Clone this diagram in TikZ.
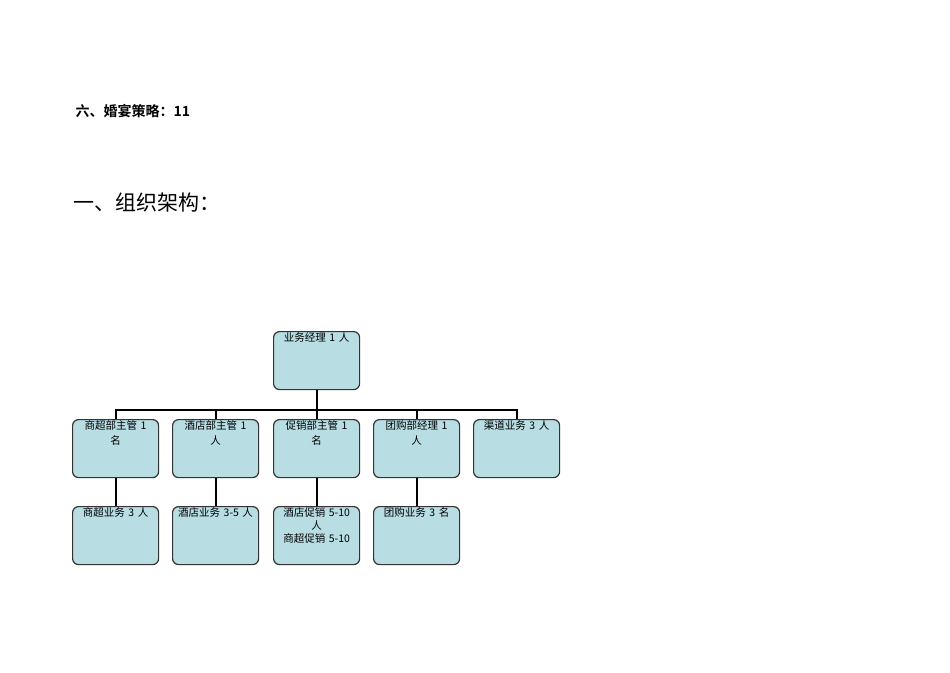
\documentclass[tikz,border=0pt]{standalone}
\usepackage{fontspec}
\newfontfamily\cjk{Noto Sans CJK SC}
\newfontfamily\cjkb{Noto Sans CJK SC Bold}
\definecolor{boxfill}{RGB}{184,222,228}
\begin{document}
\begin{tikzpicture}[x=1pt,y=-1pt,
  bx/.style={draw=black!80,line width=1.2pt,fill=boxfill,rounded corners=6pt,minimum width=86pt,minimum height=58pt,anchor=north west,inner sep=0pt},
  conn/.style={line width=2.2pt},
  lbl/.style={font=\cjk\fontsize{10.5}{15}\selectfont,align=center,anchor=north,text width=86pt}]
\useasboundingbox[fill=white] (0,0) rectangle (950,672);
\node[anchor=west,font=\cjkb\fontsize{14}{16}\selectfont] (t1) at (72,111) {六、婚宴策略：11};
\node[anchor=west,font=\cjk\fontsize{21}{24}\selectfont] (t2) at (70,203) {一、组织架构：};
\node[bx] (top) at (273,331) {};
\foreach \n/\x in {a/72,b/172,c/273,d/373,e/473}{\node[bx] (\n) at (\x,419) {};}
\foreach \n/\x in {f/72,g/172,h/273,i/373}{\node[bx] (\n) at (\x,506) {};}
\coordinate (bar) at (top.south |- 0,410);
\draw[conn] (top.south) -- (bar);
\draw[conn] (a.north) |- (e.north |- bar) -- (e.north);
\foreach \n in {b,c,d}{\draw[conn] (\n.north) -- (\n.north |- bar);}
\draw[conn] (a.south) -- (f.north);
\draw[conn] (b.south) -- (g.north);
\draw[conn] (c.south) -- (h.north);
\draw[conn] (d.south) -- (i.north);
\node[lbl] at ([yshift=2pt]top.north) {业务经理 1 人};
\node[lbl] at ([yshift=2pt]a.north) {商超部主管 1\\名};
\node[lbl] at ([yshift=2pt]b.north) {酒店部主管 1\\人};
\node[lbl] at ([yshift=2pt]c.north) {促销部主管 1\\名};
\node[lbl] at ([yshift=2pt]d.north) {团购部经理 1\\人};
\node[lbl] at ([yshift=2pt]e.north) {渠道业务 3 人};
\node[lbl] at ([yshift=2pt]f.north) {商超业务 3 人};
\node[lbl] at ([yshift=2pt]g.north) {酒店业务 3-5 人};
\node[lbl,font=\cjk\fontsize{10.5}{13}\selectfont] at ([yshift=2pt]h.north) {酒店促销 5-10\\人\\商超促销 5-10};
\node[lbl] at ([yshift=2pt]i.north) {团购业务 3 名};
\end{tikzpicture}
\end{document}
